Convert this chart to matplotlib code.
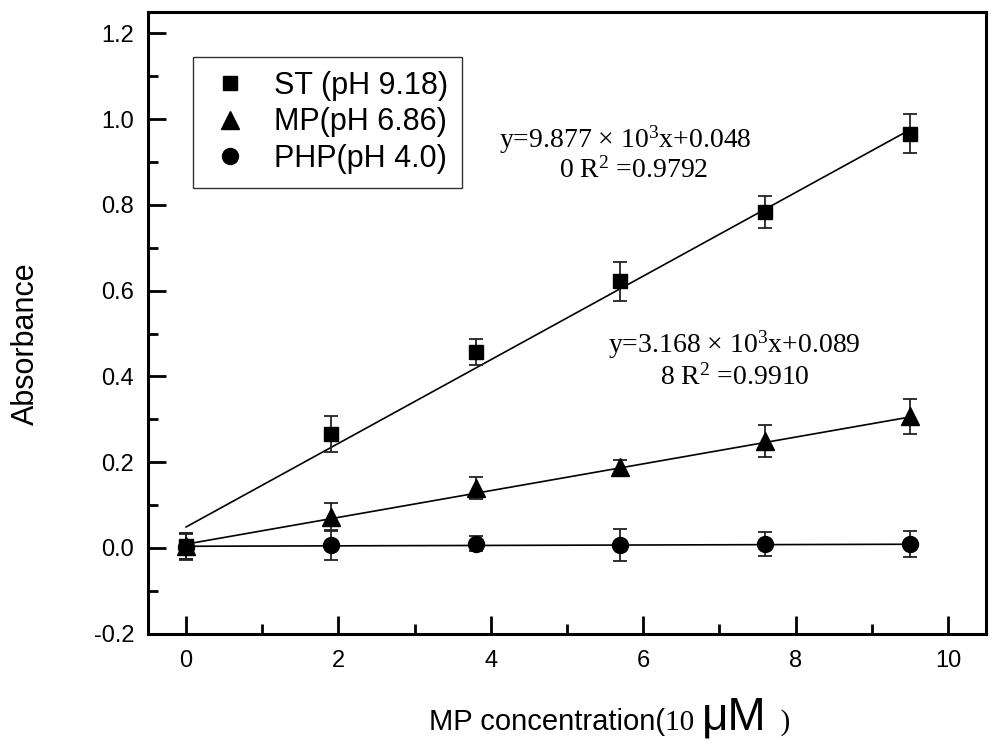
import matplotlib.pyplot as plt
from matplotlib.offsetbox import TextArea, HPacker, AnnotationBbox

# data
conc = [0, 1.9, 3.8, 5.7, 7.6, 9.5]

st_abs = [0.005, 0.266, 0.457, 0.622, 0.783, 0.966]
st_err = [0.030, 0.042, 0.030, 0.046, 0.037, 0.045]

mp_abs = [0.005, 0.072, 0.140, 0.190, 0.250, 0.307]
mp_err = [0.030, 0.032, 0.025, 0.015, 0.037, 0.040]

php_abs = [0.003, 0.007, 0.010, 0.007, 0.010, 0.009]
php_err = [0.030, 0.035, 0.018, 0.037, 0.028, 0.030]

# fitted lines as drawn (intercept, slope)
st_fit = [0.049, 0.0975]
mp_fit = [0.009, 0.0312]
php_fit = [0.004, 0.0005]

labels = ["ST (pH 9.18)", "MP(pH 6.86)", "PHP(pH 4.0)"]

sans = "Liberation Sans"
serif = "Liberation Serif"
plt.rcParams['font.family'] = [sans, 'DejaVu Sans']
plt.rcParams['mathtext.fontset'] = 'custom'
plt.rcParams['mathtext.rm'] = serif
plt.rcParams['mathtext.it'] = serif

fig = plt.figure(figsize=(10, 7.5), dpi=100)
ax = fig.add_axes([0.148, 0.155, 0.838, 0.829])

series = [
    (st_abs, st_err, st_fit, 's', 10),
    (mp_abs, mp_err, mp_fit, '^', 13),
    (php_abs, php_err, php_fit, 'o', 11.5),
]
handles = []
for (vals, errs, fit, mk, ms), lab in zip(series, labels):
    xs = [conc[0], conc[-1]]
    ax.plot(xs, [fit[0] + fit[1] * v for v in xs], color='black', lw=1.2, zorder=2)
    ax.errorbar(conc, vals, yerr=errs, fmt='none', ecolor='#222222',
                elinewidth=1.3, capsize=5, capthick=1.3, zorder=3)
    h, = ax.plot(conc, vals, linestyle='none', marker=mk, ms=ms,
                 color='black', zorder=4, label=lab)
    handles.append(h)

ax.set_xlim(-0.5, 10.5)
ax.set_ylim(-0.2, 1.25)
ax.set_xticks([0, 2, 4, 6, 8, 10])
ax.set_xticks([1, 3, 5, 7, 9], minor=True)
ax.set_yticks([-0.2, 0.0, 0.2, 0.4, 0.6, 0.8, 1.0, 1.2])
ax.set_yticks([-0.1, 0.1, 0.3, 0.5, 0.7, 0.9, 1.1], minor=True)
ax.set_yticklabels(["-0.2", "0.0", "0.2", "0.4", "0.6", "0.8", "1.0", "1.2"])

ax.tick_params(which='both', direction='in', top=False, right=False,
               labelsize=17, width=2)
ax.tick_params(which='major', length=13)
ax.tick_params(which='minor', length=7)
ax.tick_params(axis='x', which='major', pad=12)
ax.tick_params(axis='y', which='major', pad=10)
for sp in ax.spines.values():
    sp.set_linewidth(2.2)

ax.set_ylabel("Absorbance", fontsize=22)
ax.yaxis.set_label_coords(-0.128, 0.466)

leg = ax.legend(handles=handles, loc='upper left', bbox_to_anchor=(0.054, 0.928),
                borderaxespad=0, fontsize=22, frameon=True, fancybox=False,
                edgecolor='black', handletextpad=0.7, borderpad=0.45,
                labelspacing=0.22, handlelength=1.5)
leg.get_frame().set_linewidth(1.0)

eq_font = dict(transform=ax.transAxes, ha='center', va='center',
               fontsize=20, family=serif)
ax.text(0.570, 0.794, r"y=9.877 × 10$^{3}$x+0.048", **eq_font)
ax.text(0.579, 0.746, r"0 R$^{2}$ =0.9792", **eq_font)
ax.text(0.700, 0.465, r"y=3.168 × 10$^{3}$x+0.089", **eq_font)
ax.text(0.700, 0.413, r"8 R$^{2}$ =0.9910", **eq_font)

# x label mixes fonts
parts = HPacker(children=[
    TextArea("MP concentration(", textprops=dict(fontsize=21, family=sans)),
    TextArea("10 ", textprops=dict(fontsize=21, family=serif)),
    TextArea("μM", textprops=dict(fontsize=33, family=sans)),
    TextArea("  )", textprops=dict(fontsize=21, family=serif)),
], align='baseline', pad=0, sep=0)
ab = AnnotationBbox(parts, (0.61, 0.043), xycoords='figure fraction',
                    frameon=False, box_alignment=(0.5, 0.5))
fig.add_artist(ab)

fig.savefig("out.png", dpi=100)
